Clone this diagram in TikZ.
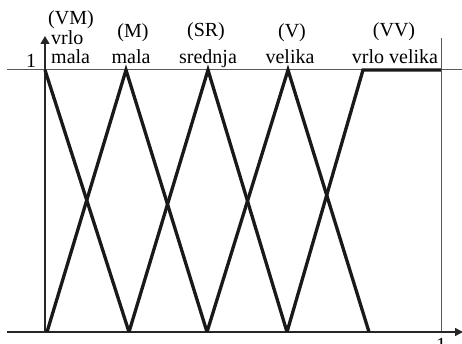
\documentclass[tikz,border=0pt]{standalone}
\usepackage{fontspec}
\setmainfont{Liberation Serif}
\usetikzlibrary{arrows.meta}

\begin{document}
\begin{tikzpicture}[x=1pt,y=-1pt,font=\fontsize{20}{22}\selectfont,
  axis/.style={line width=1.3pt,color=black!85},
  grid/.style={line width=1pt,color=black!65},
  mf/.style={line width=3.3pt,line join=miter,color=black!90}]
  \useasboundingbox (0,0) rectangle (462,344);

  \coordinate (o) at (45,332); % origin
  \coordinate (xs) at (7,332);
  \coordinate (xe) at (463,332);
  \coordinate (ye) at (45,36);
  \coordinate (ts) at (7,70); % level 1
  \coordinate (te) at (462,70);
  \coordinate (rt) at (441,38); % x = 1
  \coordinate (rb) at (441,332);

  \coordinate (p1) at (45,70); % peaks
  \coordinate (p2) at (126,70);
  \coordinate (p3) at (208,70);
  \coordinate (p4) at (288,70);
  \coordinate (p5) at (363,70);
  \coordinate (p6) at (441,70);
  \coordinate (b1) at (47,332); % feet
  \coordinate (b2) at (129,332);
  \coordinate (b3) at (207,332);
  \coordinate (b4) at (287,332);
  \coordinate (b5) at (369,332);

  \draw[grid] (ts) to (te);
  \draw[grid] (rt) to (rb);
  \draw[axis,-{Triangle[length=8pt,width=8pt]}] (xs) to (xe);
  \draw[axis,-{Triangle[length=8pt,width=9pt]}] (o) to (ye);

  \node (one) at (31,68) [anchor=base] {1};
  \node (onex) at (441,351) [anchor=base] {1};

  \draw[mf] (p1) to (b2); % VM
  \draw[mf] (b1) -- (p2) -- (b3); % M
  \draw[mf] (b2) -- (p3) -- (b4); % SR
  \draw[mf] (b3) -- (p4) -- (b5); % V
  \draw[mf] (b4) -- (p5) -- (p6); % VV

  \node (vm) at (71,25) [anchor=base] {(VM)};
  \node (vm1) at (51,45) [anchor=base west,inner sep=0pt] {vrlo};
  \node (vm2) at (51,64) [anchor=base west,inner sep=0pt] {mala};
  \node (m) at (133,38) [anchor=base] {(M)};
  \node (m1) at (131,64) [anchor=base] {mala};
  \node (sr) at (206,37) [anchor=base] {(SR)};
  \node (sr1) at (208,64) [anchor=base] {srednja};
  \node (v) at (292,38) [anchor=base] {(V)};
  \node (v1) at (290,64) [anchor=base] {velika};
  \node (vv) at (394,37) [anchor=base] {(VV)};
  \node (vv1) at (395,64) [anchor=base] {vrlo velika};
\end{tikzpicture}
\end{document}
